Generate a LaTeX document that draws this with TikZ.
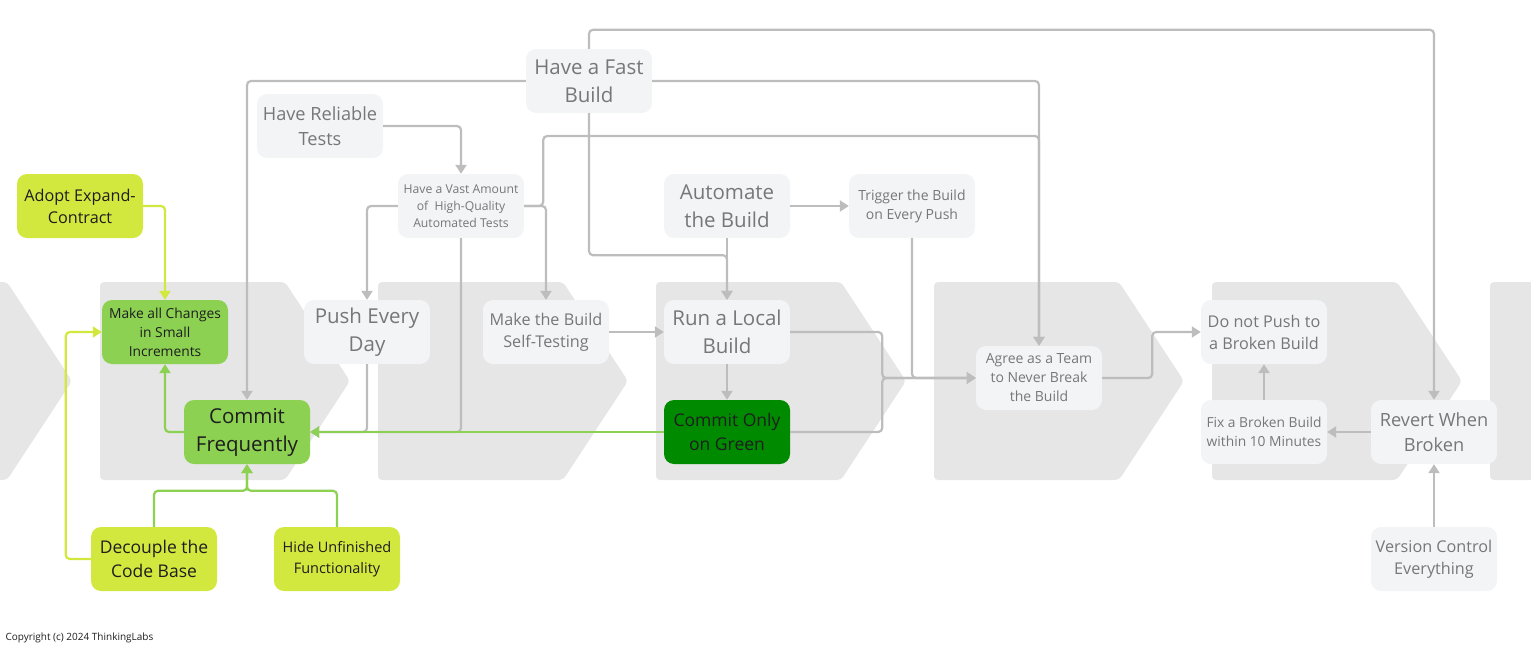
\documentclass[tikz,border=0pt]{standalone}
\usepackage{fontspec}
\setmainfont{Open Sans}
\usetikzlibrary{arrows.meta}
\usepackage{xcolor}

\definecolor{chevgray}{HTML}{E6E6E6}
\definecolor{boxgray}{HTML}{F3F4F6}
\definecolor{textgray}{HTML}{777777}
\definecolor{linegray}{HTML}{BDBDBD}
\definecolor{darktext}{HTML}{1E1E1E}
\definecolor{limefill}{HTML}{D3E83F}
\definecolor{greenfill}{HTML}{8CD152}
\definecolor{darkgreen}{HTML}{008A00}

\begin{document}
\begin{tikzpicture}[x=1pt,y=-1pt]
      \tikzstyle{box}=[rectangle,rounded corners=10pt,minimum width=126pt,minimum height=64pt,inner sep=2pt,align=center,fill=boxgray,text=textgray]
      \tikzstyle{limebox}=[box,fill=limefill,text=darktext]
      \tikzstyle{greenbox}=[box,fill=greenfill,text=darktext]
      \tikzstyle{darkbox}=[box,fill=darkgreen,text=darktext]
      \tikzstyle{f20}=[font=\fontsize{20.5}{28}\selectfont]
      \tikzstyle{f18}=[font=\fontsize{18.2}{25}\selectfont]
      \tikzstyle{f17}=[font=\fontsize{17.5}{24.5}\selectfont]
      \tikzstyle{f16}=[font=\fontsize{16.2}{22}\selectfont]
      \tikzstyle{f15}=[font=\fontsize{14.5}{21}\selectfont]
      \tikzstyle{f14}=[font=\fontsize{14}{19}\selectfont]
      \tikzstyle{f13}=[font=\fontsize{13.8}{19}\selectfont]
      \tikzstyle{f12}=[font=\fontsize{12.2}{17}\selectfont]
      \tikzstyle{link}=[draw=linegray,line width=2.2pt,rounded corners=4pt,-{Triangle[length=9pt,width=11pt]}]
      \tikzstyle{glink}=[link,draw=greenfill]
      \tikzstyle{llink}=[link,draw=limefill]
      \useasboundingbox (0,0) rectangle (1531,653);
      \clip (0,0) rectangle (1531,653);
      % stage chevrons
      \foreach \cx in {-178,100,378,656,934,1212,1490}
        \fill[chevgray,rounded corners=4pt] (\cx,282) -- (\cx+185,282) -- (\cx+250,381) -- (\cx+185,480) -- (\cx,480) -- cycle;
      % practices
      \node[box,f20] (fast) at (589,81) {Have a Fast\\Build};
      \node[box,f18] (reliable) at (320,126) {Have Reliable\\Tests};
      \node[box,f12] (vast) at (461,206) {Have a Vast Amount\\of \ High-Quality\\Automated Tests};
      \node[limebox,f16] (adopt) at (80,206) {Adopt Expand-\\Contract};
      \node[greenbox,f13] (small) at (165,332) {Make all Changes\\in Small\\Increments};
      \node[greenbox,f20] (commitfreq) at (247,432) {Commit\\Frequently};
      \node[limebox,f17] (decouple) at (154,559) {Decouple the\\Code Base};
      \node[limebox,f15] (hide) at (337,559) {Hide Unfinished\\Functionality};
      \node[box,f20] (push) at (367,332) {Push Every\\Day};
      \node[box,f16] (selftest) at (546,332) {Make the Build\\Self-Testing};
      \node[box,f20] (automate) at (727,206) {Automate\\the Build};
      \node[box,f14] (trigger) at (912,206) {Trigger the Build\\on Every Push};
      \node[box,f20] (local) at (727,332) {Run a Local\\Build};
      \node[darkbox,f17] (green) at (727,432) {Commit Only\\on Green};
      \node[box,f14] (agree) at (1039,378) {Agree as a Team\\to Never Break\\the Build};
      \node[box,f16] (nopush) at (1264,332) {Do not Push to\\a Broken Build};
      \node[box,f13] (fix) at (1264,432) {Fix a Broken Build\\within 10 Minutes};
      \node[box,f18] (revert) at (1434,432) {Revert When\\Broken};
      \node[box,f16] (vcs) at (1434,559) {Version Control\\Everything};
      \node[anchor=west,font=\fontsize{10}{12}\selectfont,text=darktext] (copyright) at (2,638) {Copyright (c) 2024 ThinkingLabs};
      % gray links
      \draw[link] (fast.west) -| (commitfreq.north);
      \draw[link] (fast.east) -| (agree.north);
      \draw[link] (fast.north) -- ++(0,-19) -| (revert.north);
      \draw[link] (fast.south) -- ++(0,142) -| (local.north);
      \draw[link] (reliable.east) -| (vast.north);
      \draw[link] (vast.west) -| (push.north);
      \draw[link] (vast.east) -| (selftest.north);
      \draw[link] (vast.east) -- ++(19,0) -- ++(0,-70) -| (agree.north);
      \draw[link] (vast.south) |- (commitfreq.east);
      \draw[link] (push.south) |- (commitfreq.east);
      \draw[link] (automate.south) -- (local.north);
      \draw[link] (automate.east) -- (trigger.west);
      \draw[link] (selftest.east) -- (local.west);
      \draw[link] (local.south) -- (green.north);
      \draw[link] (local.east) -- ++(92,0) |- (agree.west);
      \draw[link] (green.east) -- ++(92,0) |- (agree.west);
      \draw[link] (trigger.south) |- (agree.west);
      \draw[link] (agree.east) -- ++(50,0) |- (nopush.west);
      \draw[link] (fix.north) -- (nopush.south);
      \draw[link] (revert.west) -- (fix.east);
      \draw[link] (vcs.north) -- (revert.south);
      % green links
      \draw[glink] (green.west) -- (commitfreq.east);
      \draw[glink] (commitfreq.west) -| (small.south);
      \draw[glink] (decouple.north) -- ++(0,-36) -| (commitfreq.south);
      \draw[glink] (hide.north) -- ++(0,-36) -| (commitfreq.south);
      \draw[llink] (adopt.east) -| (small.north);
      \draw[llink] (decouple.west) -- ++(-25,0) |- (small.west);
\end{tikzpicture}
\end{document}
